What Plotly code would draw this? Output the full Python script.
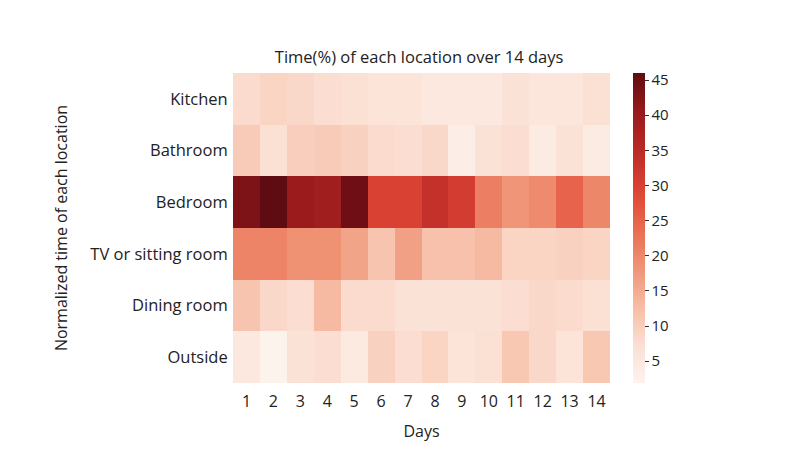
import plotly.graph_objects as go

days = [str(d) for d in range(1, 15)]
locations = ["Kitchen", "Bathroom", "Bedroom", "TV or sitting room", "Dining room", "Outside"]

kitchen = [8, 9, 8.5, 7.5, 7, 6, 6, 5, 5, 5, 6.5, 5.5, 5.5, 7]
bathroom = [10.5, 7, 10, 10.5, 9.5, 8, 7.5, 8.5, 3.5, 6.5, 7.5, 4, 6.5, 4]
bedroom = [43, 46, 40, 39, 44.5, 30, 30, 33.5, 31, 21, 18, 19.5, 25, 20]
tv_room = [20.5, 20.5, 18.5, 18.5, 16, 11.5, 16.5, 12, 12, 13, 9, 9, 9.5, 9]
dining = [11.5, 8.5, 7.5, 13, 8, 8, 6.5, 6.5, 6.5, 6.5, 7.5, 8.5, 8, 7]
outside = [5, 2, 6.5, 7.5, 4.5, 9.5, 7.5, 9, 6, 7, 11, 8.5, 6, 11]

z = [kitchen, bathroom, bedroom, tv_room, dining, outside]

reds = ['#fdf3ee', '#fbdfd2', '#f6bba3', '#ef9274', '#e96a50',
        '#dc4334', '#bb2a27', '#98191c', '#5f0b12']
colorscale = [[i / (len(reds) - 1), c] for i, c in enumerate(reds)]

font_family = "Open Sans, Liberation Sans, sans-serif"

fig = go.Figure(go.Heatmap(
    z=z, x=days, y=locations,
    colorscale=colorscale, zmin=1.9, zmax=46,
    xgap=0, ygap=0,
    colorbar=dict(
        x=1.061, xanchor="left", xref="paper", xpad=0,
        y=0.5, yanchor="middle", len=1, lenmode="fraction", ypad=0,
        thickness=12, outlinewidth=0,
        tickvals=[5, 10, 15, 20, 25, 30, 35, 40, 45],
        ticks="outside", ticklen=4, tickcolor="#333",
        tickfont=dict(size=15, color="#222", family=font_family),
    ),
))

fig.update_layout(
    width=800, height=450,
    margin=dict(l=233, r=190, t=73, b=67),
    paper_bgcolor="white", plot_bgcolor="white",
    font=dict(family=font_family, color="#222"),
    title=dict(text="Time(%) of each location over 14 days",
               x=(233 + 610) / 2 / 800 - 0.003, xanchor="center",
               y=1 - 57 / 450, yanchor="middle",
               font=dict(size=16.5, color="#222")),
    xaxis=dict(title=dict(text="Days", font=dict(size=16), standoff=14),
               tickfont=dict(size=16), ticks="", ticklabelstandoff=7,
               showgrid=False, zeroline=False, showline=False),
    yaxis=dict(title=dict(text="Normalized time of each location", font=dict(size=16), standoff=18),
               tickfont=dict(size=16.5), autorange="reversed", ticks="",
               showgrid=False, zeroline=False, showline=False, ticksuffix=" "),
)

fig.write_html("out.html")
